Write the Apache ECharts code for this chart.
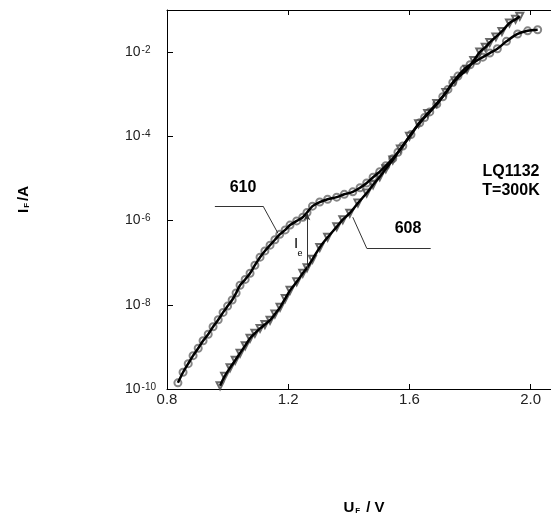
<!DOCTYPE html>
<html>
<head>
<meta charset="utf-8">
<script src="https://cdn.jsdelivr.net/npm/echarts@6/dist/echarts.min.js"></script>
<style>
  html, body { margin: 0; padding: 0; background: #fff; }
  #chart { width: 551px; height: 516px; }
</style>
</head>
<body>
<div id="chart"></div>
<script>
  // sample 610 (circles)
  const volt610 = [0.836, 0.853, 0.870, 0.886, 0.903, 0.919, 0.936, 0.952, 0.969, 0.985,
    1.000, 1.015, 1.028, 1.041, 1.058, 1.074, 1.090, 1.107, 1.123, 1.140,
    1.156, 1.172, 1.190, 1.206, 1.228, 1.248, 1.262, 1.280, 1.304, 1.330,
    1.360, 1.385, 1.413, 1.437, 1.459, 1.480, 1.502, 1.522, 1.545, 1.562,
    1.578, 1.605, 1.634, 1.650, 1.667, 1.690, 1.710, 1.727, 1.743, 1.760,
    1.780, 1.800, 1.822, 1.842, 1.865, 1.890, 1.920, 1.957, 1.990, 2.023];
  const curr610 = [1.4e-10, 2.5e-10, 4.0e-10, 6.2e-10, 9.3e-10, 1.4e-9, 2.0e-9, 3.0e-9, 4.4e-9, 6.6e-9,
    9.3e-9, 1.3e-8, 1.9e-8, 2.9e-8, 4.0e-8, 5.6e-8, 8.7e-8, 1.35e-7, 1.9e-7, 2.6e-7,
    3.5e-7, 4.7e-7, 6.0e-7, 7.8e-7, 9.8e-7, 1.2e-6, 1.55e-6, 2.2e-6, 2.75e-6, 3.2e-6,
    3.6e-6, 4.2e-6, 4.8e-6, 6.0e-6, 7.8e-6, 1.07e-5, 1.45e-5, 2.0e-5, 2.95e-5, 4.2e-5,
    5.9e-5, 1.1e-4, 2.1e-4, 2.8e-4, 3.8e-4, 5.8e-4, 8.7e-4, 1.3e-3, 1.9e-3, 2.7e-3,
    3.9e-3, 5.0e-3, 6.3e-3, 7.6e-3, 9.5e-3, 1.2e-2, 1.8e-2, 2.7e-2, 3.2e-2, 3.4e-2];

  // sample 608 (triangles)
  const volt608 = [0.975, 0.990, 1.008, 1.025, 1.041, 1.058, 1.074, 1.090, 1.107, 1.123,
    1.140, 1.156, 1.173, 1.190, 1.206, 1.228, 1.248, 1.262, 1.280, 1.304,
    1.330, 1.360, 1.380, 1.403, 1.430, 1.459, 1.480, 1.502, 1.522, 1.545,
    1.570, 1.600, 1.630, 1.660, 1.690, 1.720, 1.750, 1.790, 1.812, 1.832,
    1.850, 1.865, 1.885, 1.905, 1.930, 1.950, 1.964];
  const curr608 = [1.2e-10, 2.0e-10, 3.2e-10, 4.8e-10, 7.1e-10, 1.07e-9, 1.6e-9, 2.1e-9, 2.75e-9, 3.4e-9,
    4.3e-9, 6.0e-9, 8.7e-9, 1.4e-8, 2.2e-8, 3.5e-8, 5.6e-8, 7.6e-8, 1.2e-7, 2.3e-7,
    4.0e-7, 7.1e-7, 1.05e-6, 1.5e-6, 2.6e-6, 4.5e-6, 7.1e-6, 1.1e-5, 1.7e-5, 2.75e-5,
    5.0e-5, 1.0e-4, 2.0e-4, 3.5e-4, 6.0e-4, 1.1e-3, 2.1e-3, 3.9e-3, 6.3e-3, 1.0e-2,
    1.3e-2, 1.7e-2, 2.3e-2, 3.1e-2, 4.9e-2, 6.0e-2, 7.1e-2];

  const xTicks = [0.8, 1.2, 1.6, 2.0];
  const yTickExps = [-10, -8, -6, -4, -2];

  const FONT = '"Liberation Sans", Arial, sans-serif';
  const zip = (xs, ys) => xs.map((x, i) => [x, ys[i]]);

  const chart = echarts.init(document.getElementById('chart'));

  const xAxisBase = {
    type: 'value',
    min: xTicks[0],
    max: 2.1,
    interval: 0.4,
    splitLine: {show: false},
    axisLine: {lineStyle: {color: '#000', width: 1}},
    axisTick: {inside: true, length: 5, lineStyle: {color: '#000'}}
  };

  const leader = {
    silent: true,
    symbol: 'none',
    label: {show: false},
    lineStyle: {color: '#333', width: 1, type: 'solid'}
  };

  chart.setOption({
    animation: false,
    backgroundColor: '#fff',
    grid: {left: 167, top: 10, right: -10, bottom: 127, outerBoundsMode: 'none', containLabel: false},
    xAxis: [
      Object.assign({}, xAxisBase, {
        position: 'bottom',
        name: '{a|U}{s|F}{a| / V}',
        nameLocation: 'middle',
        nameGap: 111,
        nameTextStyle: {
          rich: {
            a: {fontFamily: FONT, fontWeight: 'bold', fontSize: 15, color: '#000'},
            s: {fontFamily: FONT, fontWeight: 'bold', fontSize: 8, color: '#000', verticalAlign: 'bottom', padding: [0, 2, 0, 1]}
          }
        },
        axisLabel: {
          margin: 3,
          showMaxLabel: false,
          fontFamily: FONT,
          fontSize: 15,
          color: '#222',
          formatter: v => xTicks.indexOf(Math.round(v * 10) / 10) >= 0 ? v.toFixed(1) : ''
        }
      }),
      Object.assign({}, xAxisBase, {
        position: 'top',
        axisLabel: {show: false}
      })
    ],
    yAxis: {
      type: 'log',
      logBase: 10,
      min: Math.pow(10, yTickExps[0]),
      max: 1e-1,
      interval: 2,
      splitLine: {show: false},
      axisLine: {lineStyle: {color: '#000', width: 1}},
      axisTick: {inside: true, length: 6, lineStyle: {color: '#000'}},
      axisLabel: {
        showMaxLabel: false,
        align: 'left',
        margin: 42,
        formatter: v => {
          const e = Math.round(Math.log10(v));
          return yTickExps.indexOf(e) >= 0 ? '{b|10}{e|' + e + '}' : '';
        },
        rich: {
          b: {fontFamily: FONT, fontSize: 14, color: '#222'},
          e: {fontFamily: FONT, fontSize: 10, color: '#222', verticalAlign: 'top', padding: [0, 0, 0, 1]}
        }
      },
      name: '{a|I}{s|F}{a|/A}',
      nameLocation: 'middle',
      nameRotate: 90,
      nameGap: 136,
      nameTextStyle: {
        rich: {
          a: {fontFamily: FONT, fontWeight: 'bold', fontSize: 15, color: '#000'},
          s: {fontFamily: FONT, fontWeight: 'bold', fontSize: 8, color: '#000', verticalAlign: 'bottom', padding: [0, 2, 0, 1]}
        }
      }
    },
    series: [
      // markers underneath
      {
        type: 'scatter',
        data: zip(volt610, curr610),
        symbol: 'emptyCircle',
        symbolSize: 7,
        itemStyle: {color: '#666', borderWidth: 1},
        z: 2
      },
      {
        type: 'scatter',
        data: zip(volt608, curr608),
        symbol: 'emptyTriangle',
        symbolRotate: 180,
        symbolSize: 7,
        itemStyle: {color: '#444', borderWidth: 1},
        z: 2
      },
      // lines on top
      {
        name: '610',
        type: 'line',
        data: zip(volt610, curr610),
        smooth: 0.3,
        showSymbol: false,
        lineStyle: {color: '#000', width: 2.5},
        z: 3,
        markLine: Object.assign({}, leader, {
          data: [
            [{coord: [0.958, 2.2e-6]}, {coord: [1.117, 2.2e-6]}],
            [{coord: [1.117, 2.2e-6]}, {coord: [1.166, 5.0e-7]}]
          ]
        })
      },
      {
        name: '608',
        type: 'line',
        data: zip(volt608, curr608),
        smooth: 0.3,
        showSymbol: false,
        lineStyle: {color: '#000', width: 2.5},
        z: 3,
        markLine: Object.assign({}, leader, {
          data: [
            [{coord: [1.413, 1.2e-6]}, {coord: [1.459, 2.2e-7]}],
            [{coord: [1.459, 2.2e-7]}, {coord: [1.670, 2.2e-7]}],
            [{coord: [1.262, 6.6e-8], symbol: 'none'}, {coord: [1.262, 1.5e-6], symbol: 'arrow', symbolSize: [5, 7]}]
          ]
        })
      }
    ],
    graphic: [
      {type: 'text', x: 243, y: 188, style: {text: '610', font: 'bold 16px ' + FONT, fill: '#000', align: 'center', verticalAlign: 'middle'}},
      {type: 'text', x: 408, y: 229, style: {text: '608', font: 'bold 16px ' + FONT, fill: '#000', align: 'center', verticalAlign: 'middle'}},
      {type: 'text', x: 511, y: 172, style: {text: 'LQ1132', font: 'bold 16px ' + FONT, fill: '#000', align: 'center', verticalAlign: 'middle'}},
      {type: 'text', x: 511, y: 191, style: {text: 'T=300K', font: 'bold 16px ' + FONT, fill: '#000', align: 'center', verticalAlign: 'middle'}},
      {type: 'text', x: 296, y: 244, style: {text: 'I', font: '15px ' + FONT, fill: '#000', align: 'center', verticalAlign: 'middle'}},
      {type: 'text', x: 300, y: 254, style: {text: 'e', font: '9px ' + FONT, fill: '#000', align: 'center', verticalAlign: 'middle'}}
    ]
  });
</script>
</body>
</html>
